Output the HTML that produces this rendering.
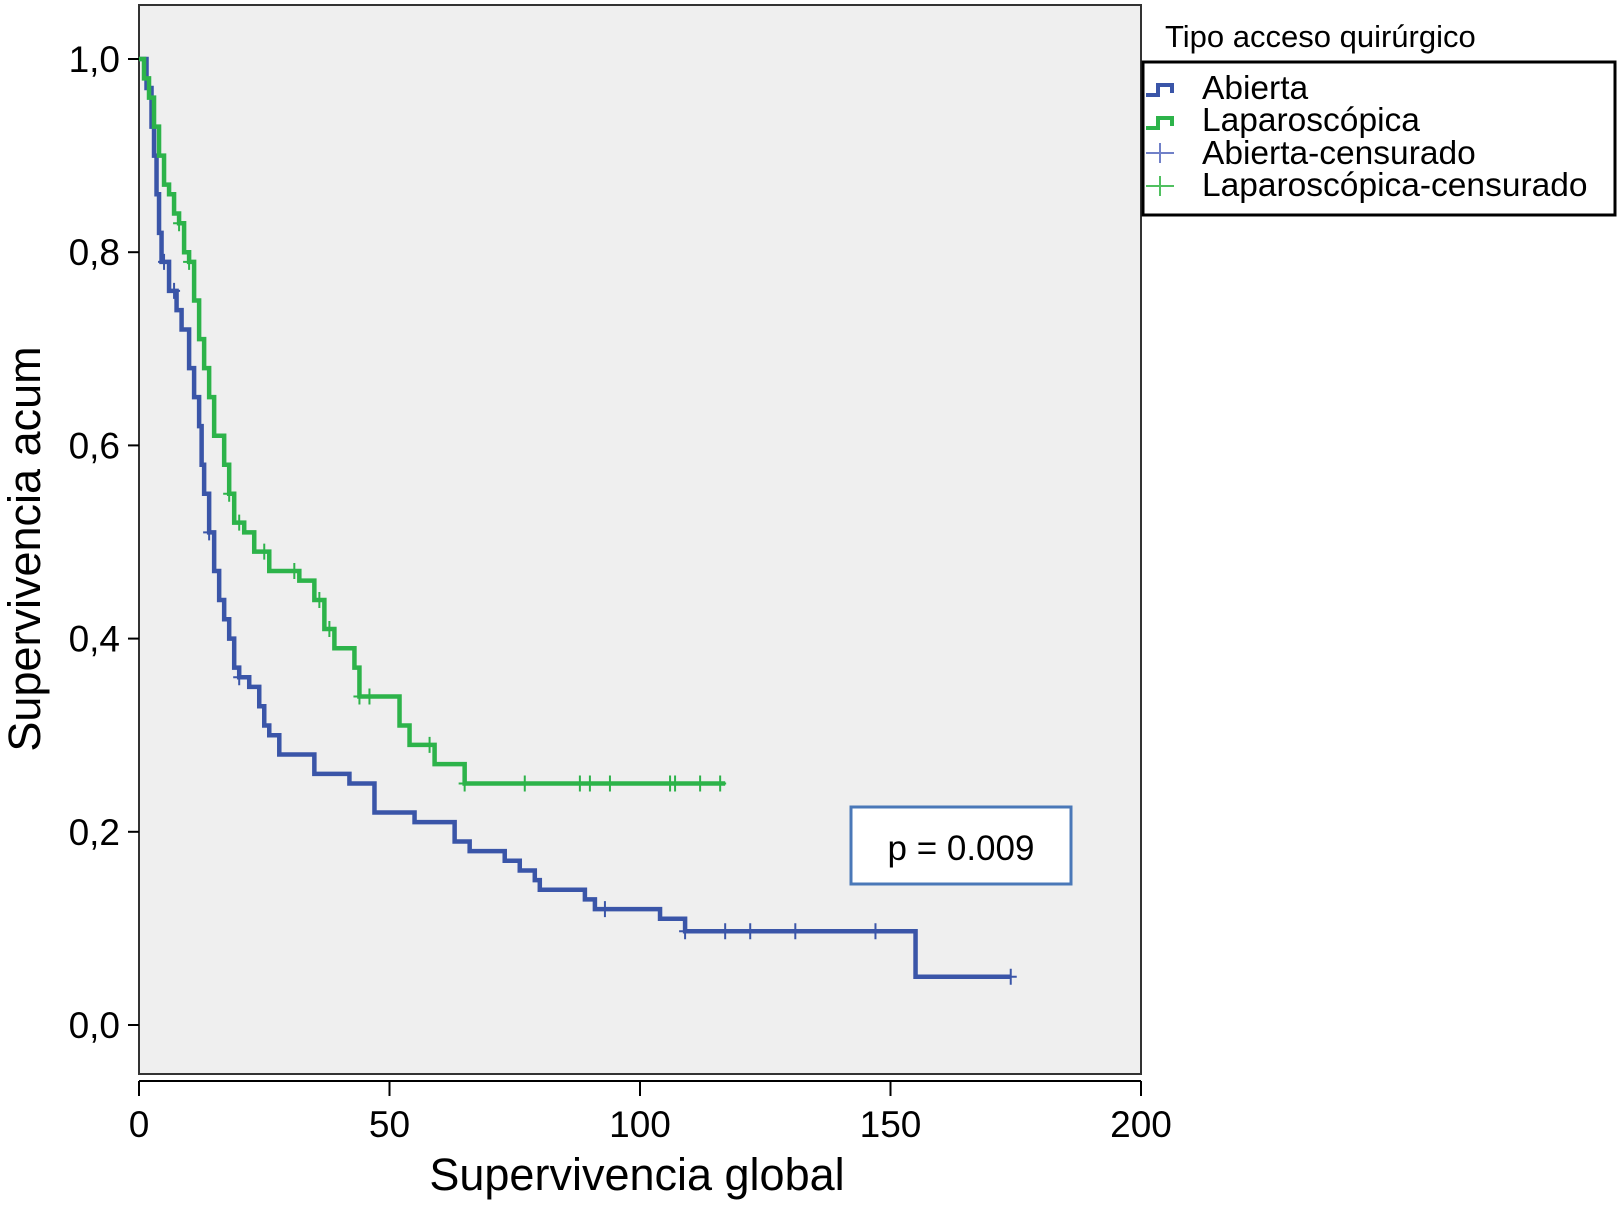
<!DOCTYPE html>
<html><head><meta charset="utf-8"><style>
body{margin:0;background:#fff;}
svg text{font-family:"Liberation Sans",sans-serif;}
</style></head><body>
<svg id="chart" width="1619" height="1201" viewBox="0 0 1619 1201">
<rect x="139" y="5" width="1002" height="1069" fill="#efefef" stroke="#333" stroke-width="2"/>
<g id="axes"></g>
<g id="series"></g>
<text x="1165" y="47" font-size="31">Tipo acceso quirúrgico</text>
<g>
<rect x="1143" y="62" width="472" height="153" fill="#fff" stroke="#000" stroke-width="3"/>
<path d="M1146,95 h12 v-10 h14 v8" fill="none" stroke="#3a55a8" stroke-width="4"/>
<path d="M1146,128 h12 v-10 h14 v8" fill="none" stroke="#2db34a" stroke-width="4"/>
<path d="M1146,153 h28 M1160,143 v20" stroke="#7080c8" stroke-width="2"/>
<path d="M1146,186 h28 M1160,176 v20" stroke="#50c060" stroke-width="2"/>
<text x="1202" y="99" font-size="33.5">Abierta</text>
<text x="1202" y="131" font-size="33.5">Laparoscópica</text>
<text x="1202" y="164" font-size="33.5">Abierta-censurado</text>
<text x="1202" y="196" font-size="33.5">Laparoscópica-censurado</text>
</g>
<g>
<rect x="851" y="807" width="220" height="77" fill="#fff" stroke="#4a78b8" stroke-width="3"/>
<text x="961" y="860" font-size="35" text-anchor="middle">p = 0.009</text>
</g>
<text x="637" y="1190" font-size="45" text-anchor="middle">Supervivencia global</text>
<text transform="translate(40,549) rotate(-90)" font-size="45" text-anchor="middle">Supervivencia acum</text>
</svg>
<script>
const xTicks=[0,50,100,150,200];
const yTicks=[0,0.2,0.4,0.6,0.8,1.0];
const yTickLabels=["0,0","0,2","0,4","0,6","0,8","1,0"];
const abiertaTimes=[0,1.5,2.5,3,3.5,4,4.5,6,7.5,8.5,10,11,12,12.5,13,14,15,16,17,18,19,20,22,24,25,26,28,35,42,47,55,63,66,73,76,79,80,89,91,104,109,155];
const abiertaSurv=[1.0,0.97,0.93,0.90,0.86,0.82,0.79,0.76,0.74,0.72,0.68,0.65,0.62,0.58,0.55,0.51,0.47,0.44,0.42,0.40,0.37,0.36,0.35,0.33,0.31,0.30,0.28,0.26,0.25,0.22,0.21,0.19,0.18,0.17,0.16,0.15,0.14,0.13,0.12,0.11,0.097,0.05];
const abiertaEnd=174;
const abiertaCensor=[5,7,14,20,93,109,117,122,131,147,174];
const lapTimes=[0,1,2,3,4,5,6,7,8,9,10,11,12,13,14,15,17,18,19,21,23,26,32,35,37,39,43,44,52,54,59,65];
const lapSurv=[1.0,0.98,0.96,0.93,0.90,0.87,0.86,0.84,0.83,0.80,0.79,0.75,0.71,0.68,0.65,0.61,0.58,0.55,0.52,0.51,0.49,0.47,0.46,0.44,0.41,0.39,0.37,0.34,0.31,0.29,0.27,0.25];
const lapEnd=117;
const lapCensor=[8,10,18,20,25,31,36,38,44,46,58,65,77,88,90,94,106,107,112,116];
const NS="http://www.w3.org/2000/svg";
const X=v=>139+v*(1141-139)/200;
const Y=v=>1025-v*(1025-59);
function mk(t,a,p){const e=document.createElementNS(NS,t);for(const k in a)e.setAttribute(k,a[k]);p.appendChild(e);return e;}
const axes=document.getElementById('axes');
mk('line',{x1:139,y1:1081,x2:1141,y2:1081,stroke:'#000','stroke-width':2},axes);
xTicks.forEach(t=>{
  mk('line',{x1:X(t),y1:1081,x2:X(t),y2:1096,stroke:'#000','stroke-width':2},axes);
  const tx=mk('text',{x:X(t),y:1137,'font-size':37,'text-anchor':'middle'},axes);
  
  
  tx.textContent=t;
});
yTicks.forEach((t,i)=>{
  mk('line',{x1:128,y1:Y(t),x2:139,y2:Y(t),stroke:'#000','stroke-width':2},axes);
  const tx=mk('text',{x:120,y:Y(t)+13,'font-size':37,'text-anchor':'end'},axes);
  
  
  tx.textContent=yTickLabels[i];
});
const ser=document.getElementById('series');
function draw(times,surv,end,cens,color,name){
  let d='M'+X(0)+','+Y(surv[0]);
  for(let i=1;i<times.length;i++){d+=' H'+X(times[i])+' V'+Y(surv[i]);}
  d+=' H'+X(end);
  const p=mk('path',{d:d,fill:'none',stroke:color,'stroke-width':4.5},ser);
  
  
  cens.forEach(c=>{
    let s=surv[0];
    for(let i=0;i<times.length;i++){if(times[i]<=c)s=surv[i];}
    const m=mk('path',{d:'M'+(X(c)-6)+','+Y(s)+' h12 M'+X(c)+','+(Y(s)-8)+' v16',stroke:color,'stroke-width':2},ser);
    
    
  });
}
draw(abiertaTimes,abiertaSurv,abiertaEnd,abiertaCensor,'#3a55a8','abierta');
draw(lapTimes,lapSurv,lapEnd,lapCensor,'#2db34a','laparoscopica');
</script>
</body></html>
